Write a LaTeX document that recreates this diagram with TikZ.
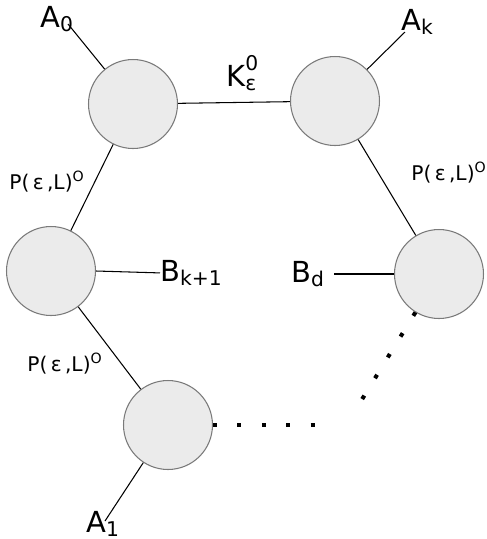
\documentclass[tikz,border=0pt]{standalone}
\usepackage{fontspec}
\setmainfont{DejaVu Sans}
\usetikzlibrary{positioning}
\definecolor{cellfill}{HTML}{EBEBEB}
\definecolor{celldraw}{HTML}{7A7A7A}

\begin{document}
\begin{tikzpicture}[
    x=0.02cm, y=-0.02cm,
    cell/.style={circle, draw=celldraw, fill=cellfill, line width=0.6pt, minimum size=1.78cm, inner sep=0pt},
    biglabel/.style={font=\fontsize{16.5}{18}\selectfont, inner sep=0pt, anchor=base west},
    smalllabel/.style={font=\fontsize{11.5}{13}\selectfont, inner sep=0pt, anchor=base west},
    edge/.style={draw=black, line width=0.6pt},
    dotline/.style={draw=black, line width=2.3pt, dash pattern=on 2.3pt off 11.6pt}
]
    \useasboundingbox (0,0) rectangle (487,539);

    % Cells
    \node[cell] (c1) at (133,104) {};
    \node[cell] (c2) at (335,101) {};
    \node[cell] (c3) at (51,271) {};
    \node[cell] (c4) at (439,274) {};
    \node[cell] (c5) at (168,425) {};

    % Labels
    \node[biglabel] (a0) at (40,27) {A\textsubscript{0}};
    \node[biglabel] (ak) at (401,30) {A\textsubscript{k}};
    \node[biglabel] (a1) at (86,532) {A\textsubscript{1}};
    \node[biglabel] (kl) at (226,86) {K\rlap{\raisebox{2.5pt}{\textsuperscript{0}}}\textsubscript{ε}};
    \node[biglabel] (bk1) at (160,281) {B\textsubscript{k+1}};
    \node[biglabel] (bd) at (291,282) {B\textsubscript{d}};
    \node[smalllabel] (p1) at (9,189) {P(\,ε\,,L)\textsuperscript{O}};
    \node[smalllabel] (p2) at (411,180) {P(\,ε\,,L)\textsuperscript{O}};
    \node[smalllabel] (p3) at (27,371) {P(\,ε\,,L)\textsuperscript{O}};

    % Free ends
    \coordinate (a0end) at (68,24);
    \coordinate (akend) at (405,32);
    \coordinate (a1end) at (105,521);
    \coordinate (bdend) at (334,274);
    \coordinate (d1) at (316,425);
    \coordinate (d2) at (361,401);

    % Edges
    \draw[edge] (c1) -- (a0end);
    \draw[edge] (c2) -- (akend);
    \draw[edge] (c5) -- (a1end);
    \draw[edge] (c1) -- (c2);
    \draw[edge] (c1) -- (c3);
    \draw[edge] (c2) -- (c4);
    \draw[edge] (c3) -- (c5);
    \draw[edge] (c3.east) -- (bk1.west);
    \draw[edge] (c4.west) -- (bdend);

    % Dots
    \draw[dotline] (c5) -- (d1);
    \draw[dotline] (c4) -- (d2);
\end{tikzpicture}
\end{document}
